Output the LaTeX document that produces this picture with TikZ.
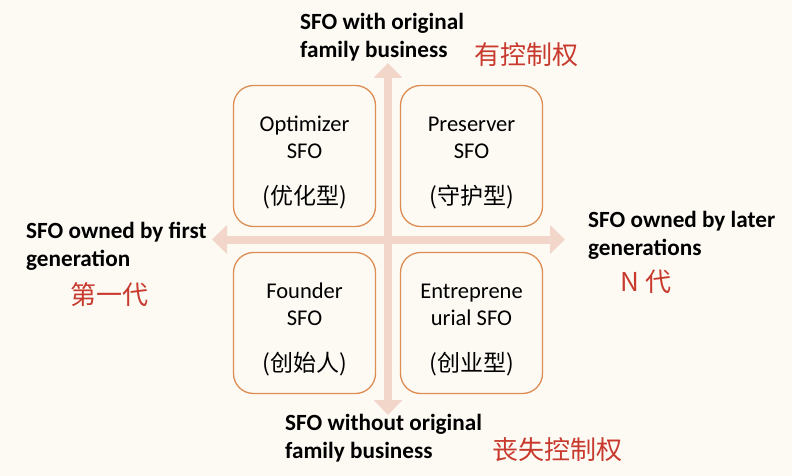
\documentclass[tikz,border=0pt]{standalone}
\usepackage{fontspec}
\setmainfont{Carlito}
\newfontfamily\cjk{Noto Sans CJK SC}
\usepackage{xcolor}
\usetikzlibrary{arrows.meta}
\usetikzlibrary{math}
\definecolor{mycream}{RGB}{253,250,244}
\definecolor{mypink}{RGB}{243,214,202}
\definecolor{myorange}{RGB}{221,140,84}
\definecolor{myred}{RGB}{200,58,46}

\tikzset{
  quad/.style={draw=myorange, line width=1.3pt, rounded corners=20pt,
    minimum width=142pt, minimum height=141pt, align=center,
    font=\fontsize{22.5}{27}\selectfont},
  arrowbar/.style={draw=mypink, line width=8pt,
    {Triangle[length=15pt,width=28pt]}-{Triangle[length=15pt,width=28pt]}},
  axislabel/.style={align=left, inner sep=0pt,
    font=\bfseries\fontsize{23.2}{27.5}\selectfont},
  cnlabel/.style={inner sep=0pt, text=myred,
    font=\cjk\fontsize{26}{30}\selectfont},
}
\newcommand{\cnline}[1]{{\cjk\fontsize{23}{27}\selectfont #1}}
\newcommand{\topgap}{\rule{0pt}{29pt}}

\begin{document}
\begin{tikzpicture}[x=1pt,y=-1pt]
\tikzmath{
\cx=388;
\cy=239.5;
}
\fill[mycream] (0,0) rectangle (792,476);
\useasboundingbox (0,0) rectangle (792,476);

\coordinate (N) at (\cx,63);
\coordinate (S) at (\cx,415);
\coordinate (W) at (212,\cy);
\coordinate (E) at (565,\cy);
\draw[arrowbar] (W) -- (E);
\draw[arrowbar] (S) -- (N);

\node[quad] (opt) at (304.5,156) {\topgap Optimizer\\SFO\\[19pt]\cnline{(优化型)}};
\node[quad] (pres) at (471.5,156) {\topgap Preserver\\SFO\\[19pt]\cnline{(守护型)}};
\node[quad] (found) at (304.5,323) {\topgap Founder\\SFO\\[19pt]\cnline{(创始人)}};
\node[quad] (entr) at (471.5,323) {\topgap Entreprene\\urial SFO\\[19pt]\cnline{(创业型)}};

\node[axislabel, anchor=base west] (up) at (300,57.5) {SFO with original\\family business};
\node[axislabel, anchor=base west] (down) at (285,458) {SFO without original\\family business};
\node[axislabel, anchor=base west] (left) at (26,266) {SFO owned by first\\generation};
\node[axislabel, anchor=base west] (right) at (588,255) {SFO owned by later\\generations};

\node[cnlabel] (ctrl) at (526.5,54.5) {有控制权};
\node[cnlabel] (noctrl) at (557,449.5) {丧失控制权};
\node[cnlabel] (first) at (109,295) {第一代};
\node[cnlabel] (later) at (646,282) {N 代};
\end{tikzpicture}
\end{document}
